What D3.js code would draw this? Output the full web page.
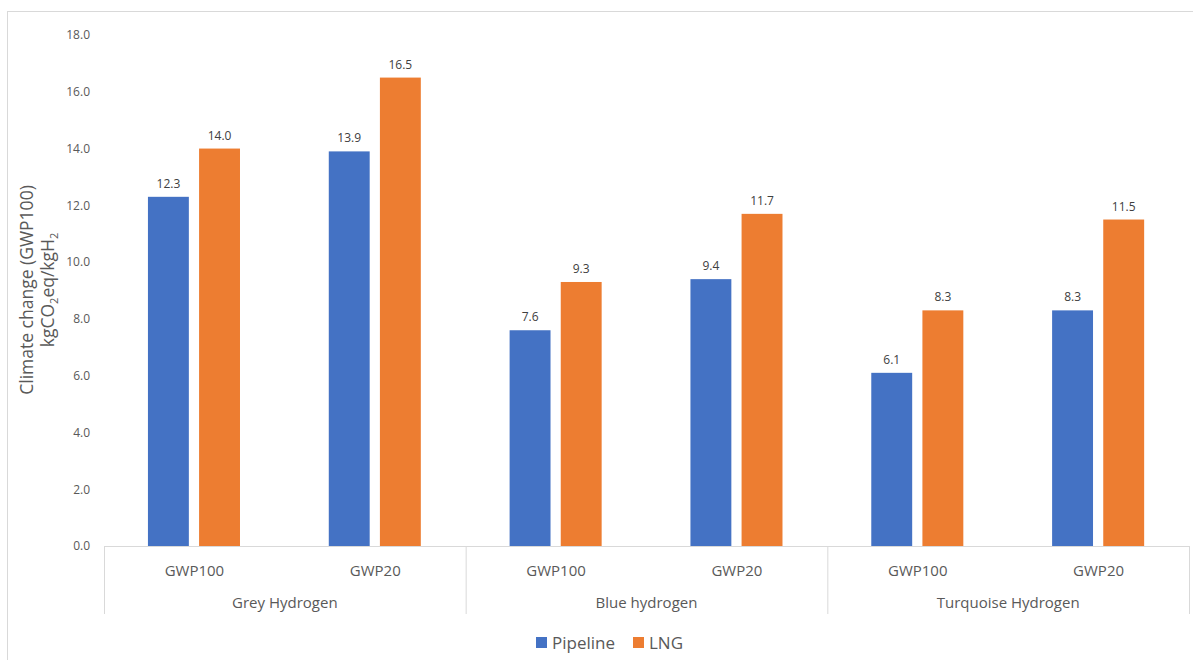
<!DOCTYPE html>
<html>
<head>
<meta charset="utf-8">
<script src="https://cdn.jsdelivr.net/npm/d3@7"></script>
<style>
  html, body { margin: 0; padding: 0; background: #fff; }
  svg { display: block; }
  text { font-family: "Open Sans", "Liberation Sans", sans-serif; }
</style>
</head>
<body>
<svg id="chart" width="1193" height="660"></svg>
<script>
// ---- data ----
const groups = ["Grey Hydrogen", "Blue hydrogen", "Turquoise Hydrogen"];
const metrics = ["GWP100", "GWP20"];
const seriesNames = ["Pipeline", "LNG"];
const pipelineValues = [12.3, 13.9, 7.6, 9.4, 6.1, 8.3];
const lngValues = [14.0, 16.5, 9.3, 11.7, 8.3, 11.5];
const yTicks = [0, 2, 4, 6, 8, 10, 12, 14, 16, 18];
const colors = ["#4472C4", "#ED7D31"];

// ---- layout ----
const svg = d3.select("#chart");
const plot = { left: 104, right: 1189, top: 35, bottom: 546 };

// outer border
svg.append("rect").attr("x", 7.5).attr("y", 11.5).attr("width", 1200).attr("height", 700)
  .attr("fill", "none").attr("stroke", "#d9d9d9").attr("stroke-width", 1);

// categories (group|metric)
const cats = [];
groups.forEach(g => metrics.forEach(m => cats.push(g + "|" + m)));

const x0 = d3.scaleBand().domain(cats).range([plot.left, plot.right]).padding(0);
const xg = d3.scaleBand().domain(groups).range([plot.left, plot.right]).padding(0);
const bw = x0.bandwidth();
const x1 = d3.scaleBand().domain(seriesNames)
  .range([bw * 0.243, bw * 0.752]).paddingInner(0.2).paddingOuter(0);
const y = d3.scaleLinear().domain([0, 18]).range([plot.bottom, plot.top]);

// y tick labels
const yAxis = d3.axisLeft(y).tickValues(yTicks).tickFormat(d3.format(".1f")).tickSize(0).tickPadding(14);
const yg = svg.append("g").attr("transform", `translate(${plot.left},0)`).call(yAxis);
yg.select(".domain").remove();
yg.selectAll("text").attr("fill", "#595959").style("font-size", "12px")
  .style("font-family", "'Open Sans', 'Liberation Sans', sans-serif");

// bars
const rows = cats.map((c, i) => ({ cat: c, vals: [pipelineValues[i], lngValues[i]] }));
const barG = svg.append("g");
rows.forEach(r => {
  r.vals.forEach((v, si) => {
    const bx = x0(r.cat) + x1(seriesNames[si]);
    barG.append("rect")
      .attr("x", bx).attr("y", y(v))
      .attr("width", x1.bandwidth()).attr("height", y(0) - y(v))
      .attr("fill", colors[si]);
    barG.append("text")
      .attr("x", bx + x1.bandwidth() / 2).attr("y", y(v) - 9)
      .attr("text-anchor", "middle").attr("fill", "#404040")
      .style("font-size", "12px")
      .text(d3.format(".1f")(v));
  });
});

// category axis line
svg.append("line").attr("x1", plot.left).attr("x2", plot.right)
  .attr("y1", plot.bottom + 0.5).attr("y2", plot.bottom + 0.5)
  .attr("stroke", "#d9d9d9").attr("stroke-width", 1);

// group separators
const seps = groups.map(g => xg(g)).concat([plot.right]);
seps.forEach(sx => {
  svg.append("line").attr("x1", sx + 0.5).attr("x2", sx + 0.5)
    .attr("y1", plot.bottom).attr("y2", 614)
    .attr("stroke", "#d9d9d9").attr("stroke-width", 1);
});

// metric labels
cats.forEach(c => {
  svg.append("text").attr("x", x0(c) + bw / 2).attr("y", 576)
    .attr("text-anchor", "middle").attr("fill", "#595959")
    .style("font-size", "15px").text(c.split("|")[1]);
});
// group labels
groups.forEach(g => {
  svg.append("text").attr("x", xg(g) + xg.bandwidth() / 2).attr("y", 608)
    .attr("text-anchor", "middle").attr("fill", "#595959")
    .style("font-size", "15px").text(g);
});

// y-axis title
const yt = svg.append("g").attr("transform", "translate(0,290) rotate(-90)");
yt.append("text").attr("x", 0).attr("y", 33).attr("text-anchor", "middle")
  .attr("fill", "#595959").style("font-size", "17.5px").text("Climate change (GWP100)");
const t2 = yt.append("text").attr("x", 0).attr("y", 54).attr("text-anchor", "middle")
  .attr("fill", "#595959").style("font-size", "17.5px");
t2.append("tspan").text("kgCO");
t2.append("tspan").attr("dy", 4).style("font-size", "11px").text("2");
t2.append("tspan").attr("dy", -4).text("eq/kgH");
t2.append("tspan").attr("dy", 4).style("font-size", "11px").text("2");

// legend
const leg = svg.append("g");
const legItems = [{ name: "Pipeline", x: 536 }, { name: "LNG", x: 633 }];
legItems.forEach((it, i) => {
  leg.append("rect").attr("x", it.x).attr("y", 637).attr("width", 11).attr("height", 11)
    .attr("fill", colors[i]);
  leg.append("text").attr("x", it.x + 16).attr("y", 648.5).attr("fill", "#595959")
    .style("font-size", "17px").text(it.name);
});
</script>
</body>
</html>
